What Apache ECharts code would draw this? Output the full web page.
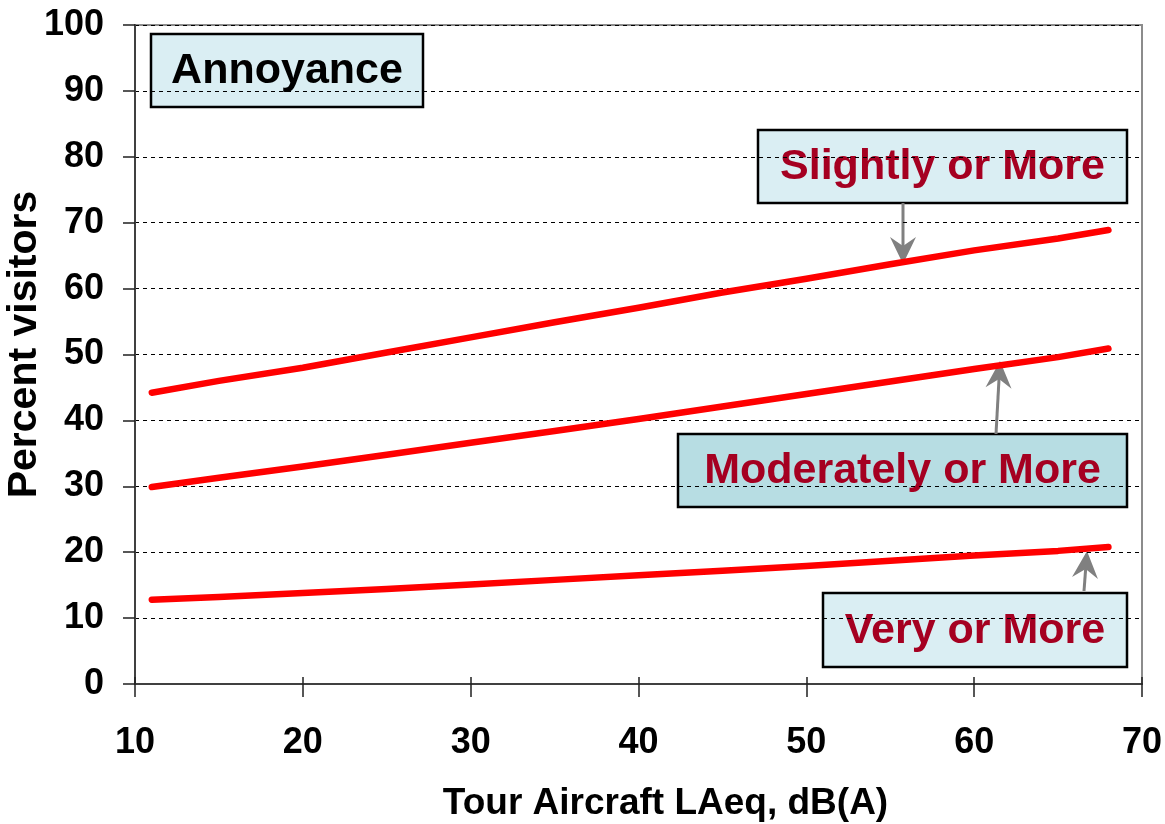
<!DOCTYPE html>
<html>
<head>
<meta charset="utf-8">
<script src="https://cdn.jsdelivr.net/npm/echarts@6/dist/echarts.min.js"></script>
<style>html,body{margin:0;padding:0;background:#fff}#c{width:1165px;height:824px}</style>
</head>
<body>
<div id="c"></div>
<script>
// Data
var xValues = [11, 15, 20, 25, 30, 35, 40, 45, 50, 55, 60, 65, 68];
var slightlyOrMore   = [44.2, 46.0, 48.0, 50.3, 52.6, 54.9, 57.1, 59.4, 61.5, 63.7, 65.8, 67.6, 68.9];
var moderatelyOrMore = [29.9, 31.3, 33.0, 34.8, 36.6, 38.4, 40.2, 42.1, 44.0, 45.9, 47.8, 49.6, 50.9];
var veryOrMore       = [12.8, 13.2, 13.8, 14.4, 15.1, 15.8, 16.5, 17.2, 17.9, 18.7, 19.5, 20.2, 20.8];
var xTicks = [10, 20, 30, 40, 50, 60, 70];
var yTicks = [0, 10, 20, 30, 40, 50, 60, 70, 80, 90, 100];
var labels = ['Annoyance', 'Slightly or More', 'Moderately or More', 'Very or More'];

var FONT = '"Liberation Sans", Arial, sans-serif';
var chart = echarts.init(document.getElementById('c'));

function pairs(ys) { return xValues.map(function (x, i) { return [x, ys[i]]; }); }

function lineSeries(name, ys) {
  return {
    name: name, type: 'line', data: pairs(ys), xAxisIndex: 0, yAxisIndex: 0,
    symbol: 'none', smooth: false, silent: true,
    lineStyle: { color: '#ff0000', width: 6.5, cap: 'round', join: 'round' },
    z: 5
  };
}

function box(x, y, w, h, fill, text, color) {
  return {
    type: 'group', z: 20,
    children: [
      { type: 'rect', shape: { x: x, y: y, width: w, height: h },
        style: { fill: fill, stroke: '#000', lineWidth: 2.5 } },
      { type: 'text', x: x + w / 2, y: y + h / 2 + 1,
        style: { text: text, fill: color, font: 'bold 43px ' + FONT, align: 'center', verticalAlign: 'middle' } }
    ]
  };
}

function arrow(x1, y1, x2, y2) {
  var dx = x2 - x1, dy = y2 - y1, L = Math.sqrt(dx * dx + dy * dy);
  var ux = dx / L, uy = dy / L, px = -uy, py = ux;
  var hl = 27, hw = 13, notch = 18;
  var bx = x2 - ux * hl, by = y2 - uy * hl;
  var nx = x2 - ux * notch, ny = y2 - uy * notch;
  return {
    type: 'group', z: 15,
    children: [
      { type: 'line', shape: { x1: x1, y1: y1, x2: nx, y2: ny }, style: { stroke: '#808080', lineWidth: 3 } },
      { type: 'polygon', shape: { points: [[x2, y2], [bx + px * hw, by + py * hw], [nx, ny], [bx - px * hw, by - py * hw]] },
        style: { fill: '#808080' } }
    ]
  };
}

var axisCommon = {
  type: 'value', min: xTicks[0], max: xTicks[xTicks.length - 1], interval: 10
};

chart.setOption({
  animation: false,
  backgroundColor: '#ffffff',
  grid: { left: 135, right: 23, top: 25, bottom: 140, outerBoundsMode: 'none', containLabel: false,
          show: true, borderColor: '#8c8c8c', borderWidth: 2, backgroundColor: 'transparent' },
  xAxis: [
    Object.assign({}, axisCommon, {
      position: 'bottom',
      name: 'Tour Aircraft LAeq, dB(A)', nameLocation: 'middle', nameGap: 101, nameMoveOverlap: false,
      nameTextStyle: { fontFamily: FONT, fontWeight: 'bold', fontSize: 37, color: '#000', padding: [0, 0, 0, 54] },
      axisLine: { show: true, onZero: false, lineStyle: { color: '#404040', width: 2 } },
      axisTick: { show: true, inside: false, length: 13, lineStyle: { color: '#202020', width: 1.5 } },
      axisLabel: { fontFamily: FONT, fontWeight: 'bold', fontSize: 36, color: '#000', margin: 41, hideOverlap: false },
      splitLine: { show: false }
    }),
    Object.assign({}, axisCommon, {
      position: 'bottom', gridIndex: 0,
      axisLine: { show: false },
      axisTick: { show: true, inside: true, length: 7, lineStyle: { color: '#202020', width: 1.5 } },
      axisLabel: { show: false },
      splitLine: { show: false }
    })
  ],
  yAxis: {
    type: 'value', min: yTicks[0], max: yTicks[yTicks.length - 1], interval: 10,
    name: 'Percent visitors', nameLocation: 'middle', nameGap: 90, nameRotate: 90, nameMoveOverlap: false,
    nameTextStyle: { fontFamily: FONT, fontWeight: 'bold', fontSize: 41, color: '#000', padding: [0, 0, 0, 20] },
    axisLine: { show: true, onZero: false, lineStyle: { color: '#404040', width: 2 } },
    axisTick: { show: true, inside: false, length: 12, lineStyle: { color: '#202020', width: 1.5 } },
    axisLabel: { fontFamily: FONT, fontWeight: 'bold', fontSize: 36, color: '#000', margin: 31 },
    splitLine: { show: true, lineStyle: { color: '#000', width: 1, type: [4, 4] } }
  },
  series: [
    lineSeries(labels[1], slightlyOrMore),
    lineSeries(labels[2], moderatelyOrMore),
    lineSeries(labels[3], veryOrMore)
  ],
  graphic: [
    box(151, 34, 272, 73, '#daeef3', labels[0], '#000000'),
    box(758, 130, 369, 73, '#daeef3', labels[1], '#a50021'),
    box(678, 434, 449, 73, '#b7dde3', labels[2], '#a50021'),
    box(823, 593, 304, 74, '#daeef3', labels[3], '#a50021'),
    arrow(903, 203, 903, 264),
    arrow(996, 434, 1000, 361),
    arrow(1084, 591, 1087, 551)
  ]
});
</script>
</body>
</html>
